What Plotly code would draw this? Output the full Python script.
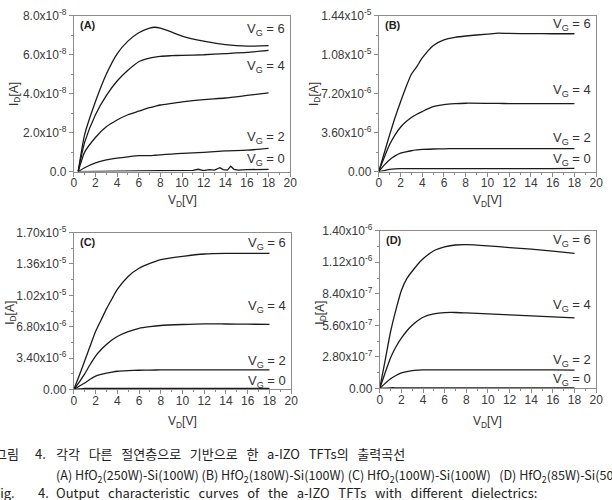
import plotly.graph_objects as go

W, H = 612, 500

# ---------------- data ----------------
# Panel A (I_D in units of 1e-8 A)
A_vd = [0.4, 1, 2, 3, 4, 5, 6, 7, 7.5, 8, 9, 10, 12, 14, 16, 18]
A_c1 = [0, 1.9, 3.6, 5.0, 6.05, 6.7, 7.13, 7.37, 7.41, 7.36, 7.17, 6.96, 6.7, 6.52, 6.44, 6.47]
A_c2 = [0, 1.5, 2.92, 3.9, 4.65, 5.2, 5.64, 5.82, 5.88, 5.92, 5.95, 5.97, 6.0, 6.06, 6.12, 6.22]
A_c3 = [0, 1.0, 1.75, 2.3, 2.65, 2.92, 3.1, 3.28, 3.35, 3.42, 3.5, 3.58, 3.70, 3.78, 3.91, 4.04]
A_c4 = [0, 0.2, 0.45, 0.6, 0.69, 0.76, 0.82, 0.82, 0.84, 0.86, 0.9, 0.94, 0.99, 1.06, 1.1, 1.19]
A_c0_vd = [0.4, 2, 4, 6, 8, 10, 11, 11.5, 12, 12.5, 13, 13.5, 13.8, 14.2, 14.5, 14.8, 15.2, 16, 17, 18]
A_c0 = [0, 0.02, 0.03, 0.04, 0.05, 0.05, 0.06, 0.12, 0.05, 0.1, 0.08, 0.2, 0.1, 0.08, 0.28, 0.12, 0.08, 0.1, 0.1, 0.12]

# Panel B (1e-5 A)
B_vd = [0, 0.5, 1, 1.5, 2, 2.5, 3, 3.5, 4, 5, 6, 7, 8, 10, 11, 12, 14, 16, 18]
B_g6 = [0, 0.17, 0.34, 0.5, 0.644, 0.78, 0.9, 0.97, 1.05, 1.164, 1.217, 1.24, 1.253, 1.271, 1.28, 1.277, 1.275, 1.274, 1.274]
B_g4 = [0, 0.13, 0.25, 0.34, 0.41, 0.46, 0.5, 0.53, 0.555, 0.6, 0.62, 0.628, 0.632, 0.631, 0.63, 0.629, 0.629, 0.629, 0.629]
B_g2 = [0, 0.06, 0.11, 0.145, 0.17, 0.183, 0.193, 0.2, 0.205, 0.209, 0.211, 0.212, 0.212, 0.212, 0.212, 0.212, 0.212, 0.212, 0.212]
B_g0 = [0, 0.01, 0.02, 0.025, 0.027, 0.027, 0.027, 0.027, 0.027, 0.027, 0.027, 0.027, 0.027, 0.027, 0.027, 0.027, 0.027, 0.028, 0.03]

# Panel C (1e-5 A)
C_vd = [0, 0.5, 1, 1.5, 2, 2.5, 3, 3.5, 4, 5, 6, 7, 8, 10, 12, 14, 16, 18]
C_g6 = [0, 0.15, 0.31, 0.47, 0.627, 0.75, 0.873, 0.98, 1.084, 1.225, 1.313, 1.366, 1.408, 1.443, 1.468, 1.475, 1.475, 1.475]
C_g4 = [0, 0.08, 0.169, 0.27, 0.362, 0.43, 0.486, 0.535, 0.574, 0.626, 0.662, 0.68, 0.693, 0.704, 0.711, 0.709, 0.707, 0.706]
C_g2 = [0, 0.035, 0.07, 0.11, 0.144, 0.162, 0.176, 0.188, 0.197, 0.204, 0.208, 0.21, 0.211, 0.211, 0.211, 0.211, 0.211, 0.211]
C_g0 = [0, 0.005, 0.01, 0.01, 0.01, 0.01, 0.01, 0.01, 0.01, 0.01, 0.01, 0.01, 0.01, 0.01, 0.01, 0.01, 0.01, 0.01]

# Panel D (1e-6 A)
D_vd = [0, 0.5, 1, 1.5, 2, 2.5, 3, 3.5, 4, 5, 6, 7, 8, 10, 12, 14, 16, 18]
D_g6 = [0, 0.25, 0.503, 0.7, 0.87, 0.975, 1.04, 1.1, 1.15, 1.222, 1.256, 1.273, 1.276, 1.265, 1.25, 1.236, 1.219, 1.199]
D_g4 = [0, 0.14, 0.273, 0.37, 0.446, 0.51, 0.56, 0.6, 0.632, 0.661, 0.673, 0.674, 0.67, 0.661, 0.653, 0.644, 0.635, 0.627]
D_g2 = [0, 0.045, 0.086, 0.115, 0.138, 0.15, 0.158, 0.162, 0.164, 0.165, 0.165, 0.165, 0.165, 0.165, 0.165, 0.164, 0.164, 0.162]
D_g0 = [0, 0.003, 0.006, 0.006, 0.006, 0.006, 0.006, 0.006, 0.006, 0.006, 0.006, 0.006, 0.006, 0.006, 0.006, 0.006, 0.006, 0.006]

# tick labels
A_tv = [0, 2e-8, 4e-8, 6e-8, 8e-8]
A_tt = ["0.0", "2.0x10<sup>-8</sup>", "4.0x10<sup>-8</sup>", "6.0x10<sup>-8</sup>", "8.0x10<sup>-8</sup>"]
B_tv = [0, 3.6e-6, 7.2e-6, 1.08e-5, 1.44e-5]
B_tt = ["0.00", "3.60x10<sup>-6</sup>", "7.20x10<sup>-6</sup>", "1.08x10<sup>-5</sup>", "1.44x10<sup>-5</sup>"]
C_tv = [0, 3.4e-6, 6.8e-6, 1.02e-5, 1.36e-5, 1.70e-5]
C_tt = ["0.00", "3.40x10<sup>-6</sup>", "6.80x10<sup>-6</sup>", "1.02x10<sup>-5</sup>", "1.36x10<sup>-5</sup>", "1.70x10<sup>-5</sup>"]
D_tv = [0, 2.8e-7, 5.6e-7, 8.4e-7, 1.12e-6, 1.4e-6]
D_tt = ["0.00", "2.80x10<sup>-7</sup>", "5.60x10<sup>-7</sup>", "8.40x10<sup>-7</sup>", "1.12x10<sup>-6</sup>", "1.40x10<sup>-6</sup>"]
X_tv = list(range(0, 21, 2))

# V_G label positions (y in data units)
A_lab = [("6", 7.29e-8), ("4", 5.4e-8), ("2", 1.75e-8), ("0", 0.61e-8)]
B_lab = [("6", 1.357e-5), ("4", 0.748e-5), ("2", 0.303e-5), ("0", 0.11e-5)]
C_lab = [("6", 1.584e-5), ("4", 0.90e-5), ("2", 0.303e-5), ("0", 0.09e-5)]
D_lab = [("6", 1.314e-6), ("4", 0.739e-6), ("2", 0.25e-6), ("0", 0.078e-6)]

# ---------------- figure ----------------
fig = go.Figure()
LINE = dict(color="#1a1a1a", width=1.3)

def add(xs, ys, scale, ax, shape="spline"):
    fig.add_trace(go.Scatter(x=xs, y=[v * scale for v in ys], mode="lines",
                             line=dict(LINE, shape=shape, smoothing=0.6),
                             xaxis="x" + ax, yaxis="y" + ax, showlegend=False,
                             hoverinfo="skip"))

for c in (A_c1, A_c2, A_c3, A_c4):
    add(A_vd, c, 1e-8, "")
add(A_c0_vd, A_c0, 1e-8, "", shape="linear")
for c in (B_g6, B_g4, B_g2, B_g0):
    add(B_vd, c, 1e-5, "2")
for c in (C_g6, C_g4, C_g2, C_g0):
    add(C_vd, c, 1e-5, "3")
for c in (D_g6, D_g4, D_g2, D_g0):
    add(D_vd, c, 1e-6, "4")

def px(x):
    return x / W

def py(y):
    return 1 - y / H

panels = {
    "": dict(x=(72, 292), y=(7, 168), rng=(0, 8e-8), tv=A_tv, tt=A_tt, lab=A_lab, letter="(A)", tdy=30),
    "2": dict(x=(382, 603), y=(7, 168), rng=(0, 1.44e-5), tv=B_tv, tt=B_tt, lab=B_lab, letter="(B)", tdy=30),
    "3": dict(x=(72, 293), y=(231, 393), rng=(0, 1.70e-5), tv=C_tv, tt=C_tt, lab=C_lab, letter="(C)", tdy=34),
    "4": dict(x=(383, 603), y=(229, 392), rng=(0, 1.40e-6), tv=D_tv, tt=D_tt, lab=D_lab, letter="(D)", tdy=35),
}

AXC = "#8c8c8c"
TFX = dict(family="Liberation Sans, Arial", size=12, color="#3a3a3a")
TFY = dict(family="Liberation Sans, Arial", size=12, color="#3a3a3a")
layout = dict(width=W, height=H, margin=dict(l=0, r=0, t=0, b=0),
              paper_bgcolor="white", plot_bgcolor="white", showlegend=False)
annotations = []
for k, p in panels.items():
    ymin, ymax = p["rng"]
    layout["xaxis" + k] = dict(domain=[px(p["x"][0]), px(p["x"][1])], range=[0, 20],
                               anchor="y" + k, tickvals=X_tv, ticks="outside", ticklen=4,
                               tickcolor=AXC, linecolor=AXC, linewidth=1, mirror=True,
                               showgrid=False, zeroline=False, tickfont=TFX,
                               minor=dict(dtick=1, ticks="outside", ticklen=2, tickcolor=AXC))
    dy = p["tv"][1] - p["tv"][0]
    layout["yaxis" + k] = dict(domain=[py(p["y"][1]), py(p["y"][0])], range=[ymin, ymax],
                               anchor="x" + k, tickvals=p["tv"], ticktext=p["tt"],
                               ticks="outside", ticklen=4, tickcolor=AXC, linecolor=AXC,
                               linewidth=1, mirror=True, showgrid=False, zeroline=False,
                               tickfont=TFY,
                               minor=dict(tick0=dy / 2, dtick=dy, ticks="outside", ticklen=2,
                                          tickcolor=AXC))
    annotations.append(dict(x=px(p["x"][0] + 4), y=py(p["y"][0] + 10), xref="paper", yref="paper",
                            text="<b>" + p["letter"] + "</b>", showarrow=False,
                            xanchor="left", yanchor="middle",
                            font=dict(family="Liberation Sans, Arial", size=11, color="#222")))
    for g, yv in p["lab"]:
        annotations.append(dict(x=19.7, y=yv, xref="x" + k, yref="y" + k,
                                text="V<sub>G</sub> = " + g, showarrow=False,
                                xanchor="right", yanchor="middle",
                                font=dict(family="Liberation Sans, Arial", size=13, color="#333")))
    cx = (p["x"][0] + p["x"][1]) / 2
    ty = p["y"][1] + p["tdy"]
    annotations.append(dict(x=px(cx), y=py(ty), xref="paper", yref="paper",
                            text="V<sub>D</sub>[V]", showarrow=False,
                            xanchor="center", yanchor="middle",
                            font=dict(family="Liberation Sans, Arial", size=12, color="#333")))

ytitle_pos = [(12, 88), (317, 88), (8, 314), (323, 314)]
for (xx, yy) in ytitle_pos:
    annotations.append(dict(x=px(xx), y=py(yy), xref="paper", yref="paper",
                            text="I<sub>D</sub>[A]", showarrow=False, textangle=-90,
                            xanchor="center", yanchor="middle",
                            font=dict(family="Liberation Sans, Arial", size=12, color="#333")))

CAP = dict(family="Noto Sans CJK KR, Liberation Sans", size=13, color="#222")
CAP2 = dict(CAP, size=12.6)
NB = "\u00a0"
kor_words = ["각각", "다른", "절연층으로", "기반으로", "한", "a-IZO", "TFTs의", "출력곡선"]
eng_words = ["Output", "characteristic", "curves", "of", "the", "a-IZO", "TFTs", "with",
             "different", "dielectrics:"]
line2 = ("(A) HfO<sub>2</sub>(250W)-Si(100W) (B) HfO<sub>2</sub>(180W)-Si(100W) "
         + "(C) HfO<sub>2</sub>(100W)-Si(100W)" + NB * 3 + "(D) HfO<sub>2</sub>(85W)-Si(50W)")
caps = [
    (-10, 459, "그림", CAP),
    (31, 459, "4.", CAP),
    (52, 459, (NB * 3).join(kor_words), CAP),
    (52, 482, line2, CAP2),
    (-12, 499, "Fig.", CAP),
    (34, 499, "4.", CAP),
    (52, 499, (NB * 3).join(eng_words), CAP),
]
for xx, yy, t, f in caps:
    annotations.append(dict(x=px(xx), y=py(yy), xref="paper", yref="paper", text=t,
                            showarrow=False, xanchor="left", yanchor="middle", font=f))

layout["annotations"] = annotations
fig.update_layout(**layout)
try:
    fig.update_xaxes(ticklabelstandoff=-4)
except Exception:
    pass
fig.write_html("out.html")
